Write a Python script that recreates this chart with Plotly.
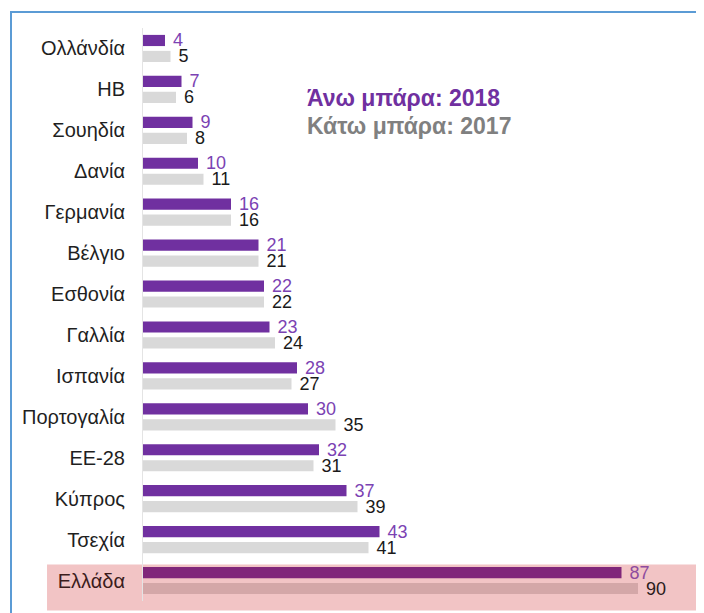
import plotly.graph_objects as go

countries = [
    "Ολλάνδία", "ΗΒ", "Σουηδία", "Δανία", "Γερμανία", "Βέλγιο", "Εσθονία",
    "Γαλλία", "Ισπανία", "Πορτογαλία", "ΕΕ-28", "Κύπρος", "Τσεχία", "Ελλάδα",
]
values_2018 = [4, 7, 9, 10, 16, 21, 22, 23, 28, 30, 32, 37, 43, 87]
values_2017 = [5, 6, 8, 11, 16, 21, 22, 24, 27, 35, 31, 39, 41, 90]
highlight = "Ελλάδα"

PURPLE = "#7030a0"
PURPLE_TXT = "#7b42b3"
GREY = "#d9d9d9"
FONT = "Liberation Sans, Arial, sans-serif"

is_hl = [c == highlight for c in countries]
col_18 = ["#80267a" if h else PURPLE for h in is_hl]
col_17 = ["#d4a7a8" if h else GREY for h in is_hl]
txt_18 = ["#8e4b9e" if h else PURPLE_TXT for h in is_hl]
txt_17 = ["#2b1b1b" if h else "#1a1a1a" for h in is_hl]

pad = "\u00a0"
fig = go.Figure()
fig.add_trace(go.Bar(
    y=countries, x=values_2018, orientation="h", name="2018",
    marker=dict(color=col_18, line_width=0),
    text=[pad + str(v) for v in values_2018], textposition="outside",
    textfont=dict(family=FONT, size=18, color=txt_18),
    constraintext="none", cliponaxis=False, hoverinfo="skip",
))
fig.add_trace(go.Bar(
    y=countries, x=values_2017, orientation="h", name="2017",
    marker=dict(color=col_17, line_width=0),
    text=[pad + str(v) for v in values_2017], textposition="outside",
    textfont=dict(family=FONT, size=18, color=txt_17),
    constraintext="none", cliponaxis=False, hoverinfo="skip",
))

ticktext = [
    f"<span style='color:#3c1c1c'>{c}</span>" if c == highlight else c
    for c in countries
]

# the page body adds an 8px margin, so the figure is 8px smaller on each axis
fig.update_layout(
    width=696, height=605,
    margin=dict(l=135, r=11, t=20, b=12),
    barmode="group", bargap=0.22, bargroupgap=0.3,
    paper_bgcolor="white", plot_bgcolor="rgba(0,0,0,0)",
    showlegend=False,
    font=dict(family=FONT, color="#1a1a1a"),
    xaxis=dict(range=[0, 100], visible=False, fixedrange=True),
    yaxis=dict(
        range=[13.5, -0.5], tickmode="array", tickvals=countries, ticktext=ticktext,
        tickfont=dict(size=20, color="#1f1f1f"), ticks="", ticklabelstandoff=13,
        showgrid=False, showline=True, linecolor="#e4e4e4", linewidth=1,
        zeroline=False, automargin=False,
    ),
    shapes=[
        # highlight band behind Greece
        dict(type="rect", xref="paper", yref="paper", x0=-0.1745, x1=1.009,
             y0=-0.0166, y1=0.0638, fillcolor="#f2c4c5", line_width=0, layer="below"),
        # blue frame
        dict(type="rect", xref="paper", yref="paper", x0=-0.240, x1=1.06,
             y0=-0.06, y1=1.028, line=dict(color="#5b9bd5", width=2), layer="above"),
    ],
    annotations=[
        dict(text="<b>Άνω μπάρα: 2018</b>", xref="paper", yref="paper",
             x=0.2945, y=0.8777, xanchor="left", yanchor="middle", showarrow=False,
             font=dict(size=23, color=PURPLE)),
        dict(text="<b>Κάτω μπάρα: 2017</b>", xref="paper", yref="paper",
             x=0.2945, y=0.8288, xanchor="left", yanchor="middle", showarrow=False,
             font=dict(size=23, color="#808080")),
    ],
)

fig.write_html("out.html")
